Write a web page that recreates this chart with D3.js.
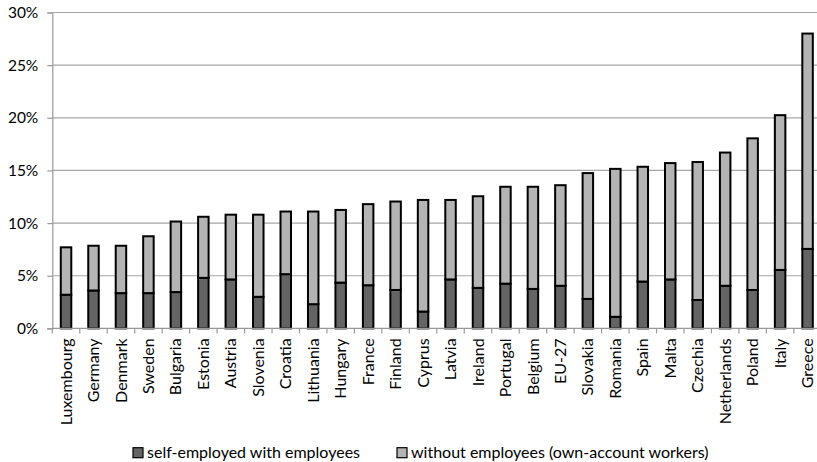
<!DOCTYPE html>
<html>
<head>
<meta charset="utf-8">
<script src="https://cdn.jsdelivr.net/npm/d3@7"></script>
<style>
  body { margin: 0; background: #fff; }
  svg { display: block; overflow: hidden; }
  text { font-family: Lato, "Open Sans", sans-serif; fill: #000; }
</style>
</head>
<body>
<div id="chart"></div>
<script>
var countries = ['Luxembourg', 'Germany', 'Denmark', 'Sweden', 'Bulgaria', 'Estonia', 'Austria',
  'Slovenia', 'Croatia', 'Lithuania', 'Hungary', 'France', 'Finland', 'Cyprus', 'Latvia', 'Ireland',
  'Portugal', 'Belgium', 'EU-27', 'Slovakia', 'Romania', 'Spain', 'Malta', 'Czechia', 'Netherlands',
  'Poland', 'Italy', 'Greece'];
// self-employed with employees (% of employment)
var withEmployees = [3.2, 3.6, 3.35, 3.35, 3.45, 4.8, 4.65, 3.0, 5.15, 2.3, 4.35, 4.1, 3.65, 1.6,
  4.65, 3.85, 4.25, 3.75, 4.05, 2.8, 1.1, 4.45, 4.65, 2.7, 4.05, 3.65, 5.55, 7.55];
// without employees (own-account workers)
var withoutEmployees = [4.5, 4.25, 4.5, 5.4, 6.7, 5.8, 6.15, 7.8, 5.95, 8.8, 6.9, 7.7, 8.4, 10.6,
  7.55, 8.7, 9.2, 9.7, 9.55, 11.95, 14.05, 10.9, 11.05, 13.1, 12.65, 14.4, 14.7, 20.45];
var yTicks = [0, 5, 10, 15, 20, 25, 30];
var seriesNames = ['self-employed with employees', 'without employees (own-account workers)'];
var seriesColors = ['#646464', '#b4b4b4'];

var margin = { top: 12.5, right: 0, bottom: 133.6, left: 52.3 },
    width = 769,
    height = 462 - margin.top - margin.bottom;

var data = countries.map(function(c, i) {
  return { name: c, s0: withEmployees[i], s1: withoutEmployees[i] };
});
var stacked = d3.stack().keys(['s0', 's1'])(data);

var svg = d3.select('#chart').append('svg')
    .attr('width', 817)
    .attr('height', 462)
  .append('g')
    .attr('transform', 'translate(' + margin.left + ',' + margin.top + ')');

var x = d3.scaleBand()
    .domain(countries)
    .range([0, width])
    .paddingInner(0.618)
    .paddingOuter(0.309);
var xIdx = d3.scaleLinear().domain([0, countries.length]).range([0, width]);
var y = d3.scaleLinear().domain([0, 30]).range([height, 0]);

// gridlines
svg.append('g')
  .selectAll('line')
  .data(yTicks.slice(1))
  .enter().append('line')
    .attr('x1', 0).attr('x2', width)
    .attr('y1', function(d) { return y(d); })
    .attr('y2', function(d) { return y(d); })
    .attr('stroke', '#a6a6a6')
    .attr('stroke-width', 1.2);

// y axis
var yAxis = svg.append('g')
  .call(d3.axisLeft(y).tickValues(yTicks).tickSize(5).tickPadding(9)
    .tickFormat(function(d) { return d + '%'; }));
yAxis.select('.domain').attr('stroke', '#999').attr('stroke-width', 1.2);
yAxis.selectAll('.tick line').attr('stroke', '#999').attr('stroke-width', 1.2);
yAxis.selectAll('text').style('font-size', '15.5px').style('font-family', 'Lato, sans-serif').attr('fill', '#000');

// bars
svg.selectAll('.layer')
  .data(stacked)
  .enter().append('g')
    .attr('fill', function(d, i) { return seriesColors[i]; })
  .selectAll('rect')
  .data(function(d) { return d; })
  .enter().append('rect')
    .attr('x', function(d) { return x(d.data.name); })
    .attr('width', x.bandwidth())
    .attr('y', function(d) { return y(d[1]); })
    .attr('height', function(d) { return y(d[0]) - y(d[1]); })
    .attr('stroke', '#000')
    .attr('stroke-width', 2);

// x axis
svg.append('line')
  .attr('x1', 0).attr('x2', width)
  .attr('y1', height).attr('y2', height)
  .attr('stroke', '#999').attr('stroke-width', 1.2);
svg.append('g')
  .selectAll('line')
  .data(d3.range(countries.length + 1))
  .enter().append('line')
    .attr('x1', function(d) { return xIdx(d); })
    .attr('x2', function(d) { return xIdx(d); })
    .attr('y1', height).attr('y2', height + 5)
    .attr('stroke', '#999').attr('stroke-width', 1.2);

svg.append('g')
  .selectAll('text')
  .data(countries)
  .enter().append('text')
    .attr('transform', function(d) {
      return 'translate(' + (x(d) + x.bandwidth() / 2) + ',' + (height + 10) + ') rotate(-90)';
    })
    .attr('text-anchor', 'end')
    .attr('dy', '0.35em')
    .style('font-size', '16px')
    .text(function(d) { return d; });

// legend
var legendX = [133 - margin.left, 397 - margin.left];
var legend = svg.selectAll('.legend')
  .data(seriesNames)
  .enter().append('g')
    .attr('transform', function(d, i) { return 'translate(' + legendX[i] + ',' + (447.7 - margin.top) + ')'; });
legend.append('rect')
  .attr('width', 10).attr('height', 10)
  .attr('fill', function(d, i) { return seriesColors[i]; })
  .attr('stroke', '#000').attr('stroke-width', 1.2);
legend.append('text')
  .attr('x', 14).attr('y', 5)
  .attr('dy', '0.35em')
  .style('font-size', '16px')
  .text(function(d) { return d; });
</script>
</body>
</html>
